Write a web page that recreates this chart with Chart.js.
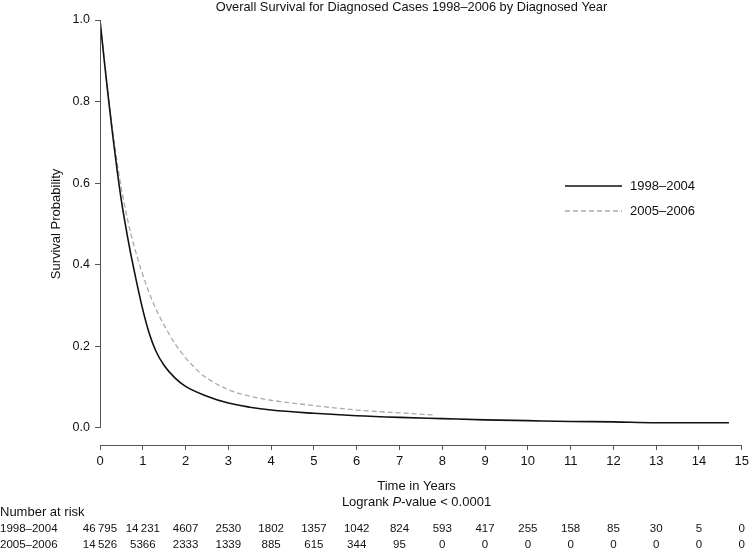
<!DOCTYPE html>
<html>
<head>
<meta charset="utf-8">
<script src="https://cdn.jsdelivr.net/npm/chart.js@4/dist/chart.umd.min.js"></script>
<style>
html,body{margin:0;padding:0;background:#fff;}
#wrap{width:753px;height:551px;position:relative;}
</style>
</head>
<body>
<div id="wrap"><canvas id="c" width="753" height="551"></canvas></div>
<script>
const titleText = 'Overall Survival for Diagnosed Cases 1998\u20132006 by Diagnosed Year';
const seriesNames = ['1998\u20132004', '2005\u20132006'];
const timesA = [0, 0.1, 0.2, 0.3, 0.4, 0.5, 0.65, 0.8, 1.0, 1.15, 1.3, 1.5, 1.75, 2.0, 2.5, 3, 3.5, 4, 5, 6, 7, 8, 9, 10, 11, 12, 13, 14, 14.7];
const survA  = [1.0, 0.90, 0.805, 0.715, 0.632, 0.557, 0.465, 0.385, 0.29, 0.232, 0.19, 0.153, 0.123, 0.102, 0.078, 0.061, 0.051, 0.044, 0.036, 0.030, 0.026, 0.023, 0.020, 0.018, 0.016, 0.015, 0.013, 0.013, 0.013];
const timesB = [0, 0.1, 0.2, 0.3, 0.4, 0.5, 0.65, 0.8, 1.0, 1.25, 1.5, 1.75, 2.0, 2.33, 2.5, 3, 3.5, 4, 5, 6, 7, 7.8];
const survB  = [1.0, 0.905, 0.812, 0.727, 0.652, 0.587, 0.508, 0.445, 0.375, 0.305, 0.252, 0.207, 0.172, 0.136, 0.122, 0.094, 0.078, 0.068, 0.055, 0.044, 0.037, 0.032];
const xTicks = [0,1,2,3,4,5,6,7,8,9,10,11,12,13,14,15];
const yTicks = [0, 0.2, 0.4, 0.6, 0.8, 1.0];
const riskA = ['46\u2009795','14\u2009231','4607','2530','1802','1357','1042','824','593','417','255','158','85','30','5','0'];
const riskB = ['14\u2009526','5366','2333','1339','885','615','344','95','0','0','0','0','0','0','0','0'];

const FONT = '"Liberation Sans", Arial, Helvetica, sans-serif';

const mk = (t, s) => t.map((v, i) => ({x: v, y: s[i]}));

const decor = {
  id: 'decor',
  afterDraw(chart) {
    const ctx = chart.ctx;
    const xs = chart.scales.x, ys = chart.scales.y;
    ctx.save();
    ctx.strokeStyle = '#555';
    ctx.lineWidth = 1;
    ctx.beginPath();
    const ax = Math.round(xs.left) + 0.5;
    ctx.moveTo(ax, ys.getPixelForValue(0));
    ctx.lineTo(ax, ys.getPixelForValue(1));
    ctx.stroke();
    ctx.fillStyle = '#111';
    ctx.font = '12.8px ' + FONT;
    ctx.textAlign = 'center';
    ctx.textBaseline = 'middle';
    ctx.fillText(titleText, 411.5, 7);
    ctx.save();
    ctx.font = '13px ' + FONT;
    ctx.translate(56, (ys.getPixelForValue(0) + ys.getPixelForValue(1)) / 2);
    ctx.rotate(-Math.PI / 2);
    ctx.fillText('Survival Probability', 0, 0);
    ctx.restore();
    const cx = 416.5;
    ctx.font = '13px ' + FONT;
    ctx.fillText('Time in Years', cx, 486);
    const p1 = 'Logrank ', p2 = 'P', p3 = '-value < 0.0001';
    const w1 = ctx.measureText(p1).width, w3 = ctx.measureText(p3).width;
    ctx.font = 'italic 13px ' + FONT;
    const w2 = ctx.measureText(p2).width;
    const sx = cx - (w1 + w2 + w3) / 2;
    ctx.textAlign = 'left';
    ctx.font = '13px ' + FONT;
    ctx.fillText(p1, sx, 502);
    ctx.font = 'italic 13px ' + FONT;
    ctx.fillText(p2, sx + w1, 502);
    ctx.font = '13px ' + FONT;
    ctx.fillText(p3, sx + w1 + w2, 502);
    ctx.fillText('Number at risk', 0, 512);
    ctx.font = '11.5px ' + FONT;
    ctx.fillText(seriesNames[0], 0, 529);
    ctx.fillText(seriesNames[1], 0, 545);
    ctx.textAlign = 'center';
    xTicks.forEach((t, i) => {
      const px = xs.getPixelForValue(t);
      ctx.fillText(riskA[i], px, 529);
      ctx.fillText(riskB[i], px, 545);
    });
    const ds = chart.data.datasets;
    const ly = [186, 211];
    ds.forEach((d, i) => {
      ctx.strokeStyle = d.borderColor;
      ctx.lineWidth = d.borderWidth;
      ctx.setLineDash(d.borderDash || []);
      ctx.beginPath();
      ctx.moveTo(565, ly[i]);
      ctx.lineTo(622, ly[i]);
      ctx.stroke();
      ctx.setLineDash([]);
      ctx.fillStyle = '#111';
      ctx.textAlign = 'left';
      ctx.font = '13px ' + FONT;
      ctx.fillText(d.label, 630, ly[i]);
    });
    ctx.restore();
  }
};

new Chart(document.getElementById('c'), {
  type: 'line',
  data: {
    datasets: [
      { label: seriesNames[0], data: mk(timesA, survA), borderColor: '#111', borderWidth: 1.6,
        pointRadius: 0, cubicInterpolationMode: 'monotone', fill: false },
      { label: seriesNames[1], data: mk(timesB, survB), borderColor: '#aaaaaa', borderWidth: 1.3,
        borderDash: [5, 3], pointRadius: 0, cubicInterpolationMode: 'monotone', fill: false }
    ]
  },
  options: {
    responsive: false,
    animation: false,
    layout: { padding: { left: 0, right: 9, top: 20, bottom: 0 } },
    plugins: { legend: { display: false }, title: { display: false }, tooltip: { enabled: false } },
    scales: {
      x: {
        type: 'linear', min: 0, max: 15,
        afterBuildTicks: s => { s.ticks = xTicks.map(v => ({value: v})); },
        afterFit: s => { s.height = 106; },
        grid: { display: true, drawOnChartArea: false, drawTicks: true, tickLength: 5, color: '#555' },
        border: { display: true, color: '#555', width: 1 },
        ticks: { color: '#111', font: { family: FONT, size: 13 }, padding: 4, maxRotation: 0, autoSkip: false,
          callback: v => String(v) }
      },
      y: {
        type: 'linear', min: -0.0417, max: 1.0,
        afterBuildTicks: s => { s.ticks = yTicks.map(v => ({value: v})); },
        afterFit: s => { s.width = 100; },
        grid: { display: true, drawOnChartArea: false, drawTicks: true, tickLength: 5, color: '#555' },
        border: { display: false },
        ticks: { color: '#111', font: { family: FONT, size: 12.5 }, padding: 5, autoSkip: false,
          callback: v => v.toFixed(1) }
      }
    }
  },
  plugins: [decor]
});
</script>
</body>
</html>
